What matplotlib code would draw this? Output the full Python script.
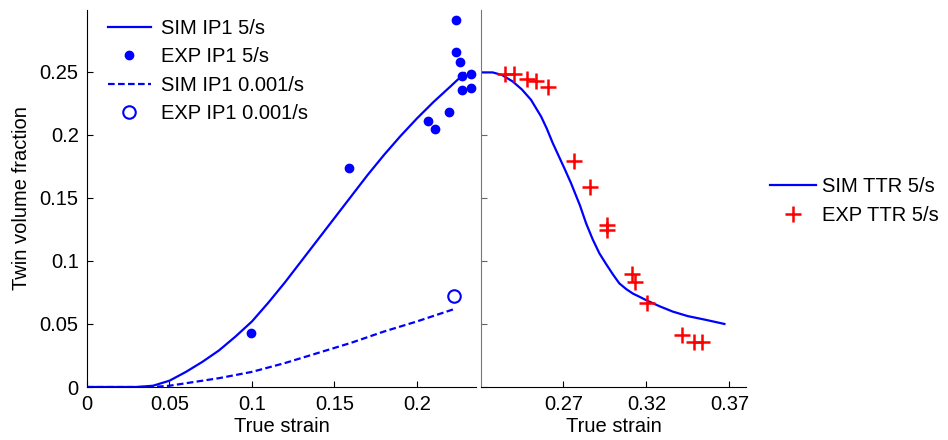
import matplotlib
matplotlib.use("Agg")
import matplotlib.pyplot as plt
from matplotlib.ticker import FixedLocator, FixedFormatter

plt.rcParams['font.family'] = ['Liberation Sans', 'DejaVu Sans']

# IP1 loading: simulated and measured twin volume fraction
sim_ip1_fast_x = [0, 0.03, 0.04, 0.05, 0.06, 0.07, 0.08, 0.09, 0.1, 0.11, 0.12,
                  0.13, 0.14, 0.15, 0.16, 0.17, 0.18, 0.19, 0.2, 0.21, 0.22, 0.229]
sim_ip1_fast_y = [0, 0, 0.001, 0.005, 0.012, 0.02, 0.029, 0.04, 0.052, 0.067, 0.083,
                  0.1, 0.117, 0.134, 0.151, 0.168, 0.184, 0.199, 0.213, 0.226, 0.238, 0.249]

exp_ip1_fast_x = [0.0994, 0.159, 0.2067, 0.2109, 0.2196, 0.2238, 0.2238, 0.2258,
                  0.2273, 0.2325, 0.2273, 0.2325]
exp_ip1_fast_y = [0.043, 0.174, 0.211, 0.2048, 0.218, 0.2913, 0.2656, 0.2577,
                  0.2463, 0.248, 0.2357, 0.237]

sim_ip1_slow_x = [0, 0.04, 0.05, 0.06, 0.08, 0.1, 0.12, 0.14, 0.16, 0.18, 0.2, 0.223]
sim_ip1_slow_y = [0, 0, 0.001, 0.003, 0.007, 0.012, 0.019, 0.027, 0.035, 0.044, 0.052, 0.062]

exp_ip1_slow_x = [0.2224]
exp_ip1_slow_y = [0.0725]

# TTR reloading (detwinning)
sim_ttr_x = [0.22, 0.2274, 0.233, 0.2395, 0.245, 0.2505, 0.2566, 0.26, 0.2636, 0.2706,
             0.2746, 0.28, 0.2837, 0.2877, 0.2917, 0.296, 0.300, 0.3037, 0.308, 0.312,
             0.3158, 0.32, 0.328, 0.3359, 0.345, 0.356, 0.367]
sim_ttr_y = [0.2495, 0.2495, 0.2475, 0.2423, 0.2360, 0.2278, 0.2145, 0.205, 0.1935, 0.1735,
             0.1617, 0.144, 0.1298, 0.117, 0.106, 0.097, 0.089, 0.0822, 0.0775, 0.0740,
             0.0716, 0.0688, 0.0640, 0.0598, 0.0562, 0.0532, 0.050]

exp_ttr_x = [0.2349, 0.2405, 0.248, 0.2536, 0.261, 0.2764, 0.2861, 0.2961, 0.2961,
             0.3112, 0.3132, 0.3206, 0.3413, 0.3487, 0.3537]
exp_ttr_y = [0.2484, 0.2484, 0.2442, 0.2423, 0.2376, 0.1796, 0.159, 0.1286, 0.1246,
             0.0897, 0.0836, 0.0664, 0.0413, 0.036, 0.036]

left_xticks = [0, 0.05, 0.1, 0.15, 0.2]
left_xlabels = ["0", "0.05", "0.1", "0.15", "0.2"]
yticks = [0, 0.05, 0.1, 0.15, 0.2, 0.25]
ylabels = ["0", "0.05", "0.1", "0.15", "0.2", "0.25"]
right_xticks = [0.27, 0.32, 0.37]
right_xlabels = ["0.27", "0.32", "0.37"]

BLUE = "#0000ff"
RED = "#ff0000"
FS = 14.5

fig = plt.figure(figsize=(9.48, 4.4), dpi=100)
W, H = 948, 440
ax1 = fig.add_axes([87 / W, (H - 387) / H, (476 - 87) / W, 377 / H])
ax2 = fig.add_axes([481 / W, (H - 387) / H, (746 - 481) / W, 377 / H])

lw = 1.6
ax1.plot(sim_ip1_fast_x, sim_ip1_fast_y, '-', color=BLUE, lw=lw, label="SIM IP1 5/s")
ax1.plot(exp_ip1_fast_x, exp_ip1_fast_y, 'o', color=BLUE, ms=6, ls='none', label="EXP IP1 5/s")
ax1.plot(sim_ip1_slow_x, sim_ip1_slow_y, '--', color=BLUE, lw=lw, dashes=(3, 1.5),
         label="SIM IP1 0.001/s")
ax1.plot(exp_ip1_slow_x, exp_ip1_slow_y, 'o', mfc='white', mec=BLUE, mew=1.5, ms=9,
         ls='none', label="EXP IP1 0.001/s")

ax2.plot(sim_ttr_x, sim_ttr_y, '-', color=BLUE, lw=lw, label="SIM TTR 5/s")
ax2.plot(exp_ttr_x, exp_ttr_y, '+', color=RED, ms=11, mew=1.8, ls='none', label="EXP TTR 5/s")

ax1.set_xlim(0, 0.2358)
ax1.set_ylim(0, 0.299)
ax2.set_xlim(0.2204, 0.3800)
ax2.set_ylim(0, 0.299)

for ax in (ax1, ax2):
    ax.spines['top'].set_visible(False)
    ax.spines['right'].set_visible(False)
    ax.tick_params(direction='in', length=4, width=0.8, labelsize=FS, pad=6)
    ax.set_xlabel("True strain", fontsize=FS, labelpad=2)

ax1.xaxis.set_major_locator(FixedLocator(left_xticks))
ax1.xaxis.set_major_formatter(FixedFormatter(left_xlabels))
ax1.yaxis.set_major_locator(FixedLocator(yticks))
ax1.yaxis.set_major_formatter(FixedFormatter(ylabels))
ax1.set_ylabel("Twin volume fraction", fontsize=FS, labelpad=6)

ax2.xaxis.set_major_locator(FixedLocator(right_xticks))
ax2.xaxis.set_major_formatter(FixedFormatter(right_xlabels))
ax2.yaxis.set_major_locator(FixedLocator(yticks))
ax2.tick_params(axis='y', labelleft=False, color='#666666')
ax2.spines['left'].set_color('#777777')

ax1.legend(loc='upper left', bbox_to_anchor=(0.008, 1.025), frameon=False, fontsize=FS,
           handlelength=2.1, handletextpad=0.5, labelspacing=0.47, numpoints=1,
           borderaxespad=0.5)
fig.legend(handles=ax2.get_lines(), loc='upper left', bbox_to_anchor=(752 / W, 1 - 159 / H),
           frameon=False, fontsize=FS, handlelength=2.3, handletextpad=0.3,
           labelspacing=0.5, numpoints=1)

fig.savefig("out.png", dpi=100)
